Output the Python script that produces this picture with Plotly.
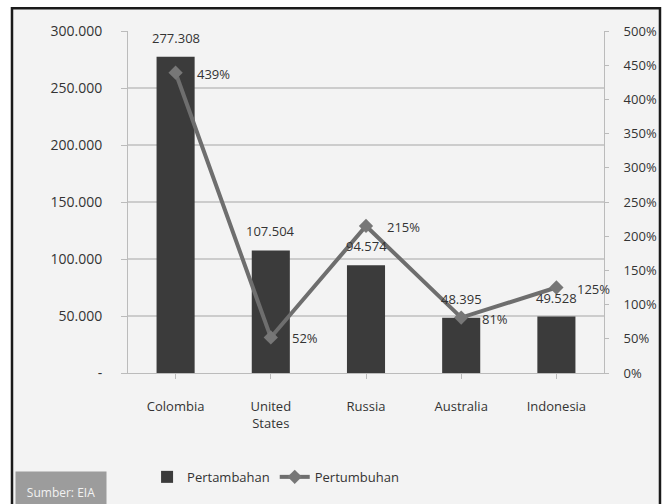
import plotly.graph_objects as go

# Coal export figures by country
countries = ["Colombia", "United<br>States", "Russia", "Australia", "Indonesia"]
pertambahan = [277308, 107504, 94574, 48395, 49528]      # absolute increase
pertumbuhan = [4.39, 0.52, 2.15, 0.81, 1.25]             # growth rate
left_ticks = [0, 50000, 100000, 150000, 200000, 250000, 300000]
right_ticks = [0, 0.5, 1.0, 1.5, 2.0, 2.5, 3.0, 3.5, 4.0, 4.5, 5.0]


def thousands(v):
    return f"{v:,.0f}".replace(",", ".")


left_text = ["-" if v == 0 else thousands(v) for v in left_ticks]
right_text = [f"{round(v * 100)}%" for v in right_ticks]

txt = "#333333"
font = dict(family="Open Sans, Liberation Sans, sans-serif", size=13, color=txt)

fig = go.Figure()
fig.add_trace(go.Bar(
    x=countries, y=pertambahan, name="Pertambahan",
    marker=dict(color="#3b3b3b", line=dict(width=0)),
))
fig.add_trace(go.Scatter(
    x=countries, y=pertumbuhan, name="Pertumbuhan", yaxis="y2",
    mode="lines+markers",
    line=dict(color="#6e6e6e", width=4),
    marker=dict(symbol="diamond", size=11, color="#777777"),
))

# Value labels floating above each bar
for c, v in zip(countries, pertambahan):
    fig.add_annotation(x=c, y=v, yref="y", text=thousands(v), showarrow=False,
                       yshift=19, font=dict(size=13, color=txt))

# Growth labels to the right of each line point
for c, v in zip(countries, pertumbuhan):
    fig.add_annotation(x=c, y=v, yref="y2", text=f"{round(v * 100)}%",
                       showarrow=False, xanchor="left", xshift=19, yshift=-1,
                       font=dict(size=13, color=txt))

fig.update_layout(
    width=672, height=504,
    margin=dict(l=128, r=68, t=31, b=128),
    paper_bgcolor="#ffffff", plot_bgcolor="#f3f3f3",
    font=font, bargap=0.6, showlegend=True,
    legend=dict(orientation="h", x=0.31, xanchor="center", y=-0.26, yanchor="top",
                bgcolor="rgba(0,0,0,0)", font=dict(size=13, color=txt)),
    xaxis=dict(range=[-0.5, len(countries) - 0.5], autorange=False,
               showgrid=False, showline=True, linecolor="#bbbbbb", ticks="outside",
               tickcolor="#bbbbbb", ticklen=5, tickfont=dict(size=13),
               ticklabelstandoff=16),
    yaxis=dict(range=[0, 300000], tickvals=left_ticks, ticktext=left_text,
               showgrid=True, gridcolor="#cccccc", gridwidth=2,
               showline=True, linecolor="#bbbbbb", ticks="outside",
               tickcolor="#bbbbbb", ticklen=6, zeroline=False,
               tickfont=dict(size=14), ticklabelstandoff=16),
    yaxis2=dict(range=[0, 5.0], tickvals=right_ticks, ticktext=right_text,
                overlaying="y", side="right", showgrid=False,
                showline=True, linecolor="#bbbbbb", ticks="outside",
                tickcolor="#bbbbbb", ticklen=4, zeroline=False,
                tickfont=dict(size=13), ticklabelstandoff=12),
)

# Panel background and frame
fig.add_shape(type="rect", xref="paper", yref="paper", layer="below",
              x0=-0.2437, x1=1.1176, y0=-0.42, y1=1.0667,
              line=dict(color="#1a1a1a", width=2.5), fillcolor="#f3f3f3")

# Source tag in the bottom-left corner
fig.add_annotation(xref="paper", yref="paper", x=-0.2374, y=-0.41,
                   xanchor="left", yanchor="bottom",
                   text="Sumber: EIA", showarrow=False,
                   width=90, height=40, bgcolor="#9c9c9c", borderpad=0,
                   font=dict(size=12, color="#f2f2f2"))

fig.write_html("out.html")
